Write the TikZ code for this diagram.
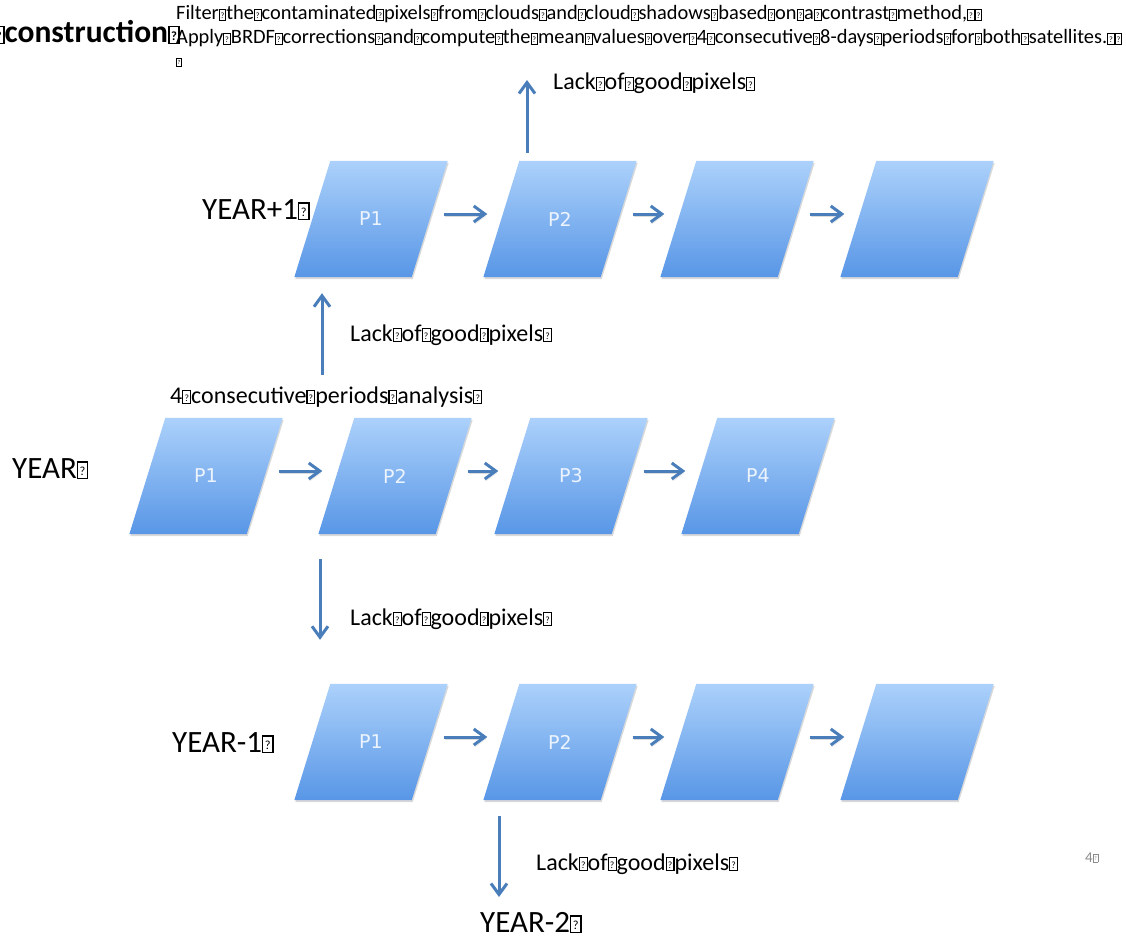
\documentclass[tikz,border=0pt]{standalone}
\usepackage{fontspec}
\setmainfont{Carlito}
\newfontfamily\periodfont{DejaVu Sans}
\usepackage{graphicx}
\usetikzlibrary{arrows.meta, shadows, backgrounds}

\definecolor{linkblue}{RGB}{74,126,187}
\definecolor{paneltop}{RGB}{172,209,251}
\definecolor{panelbot}{RGB}{88,150,230}
\definecolor{pagegray}{RGB}{140,140,140}

% box that the slides print in place of a space
\newcommand{\qb}{{\fboxsep=0pt\fboxrule=0.045em\fbox{\makebox[0.28em]{\rule{0pt}{0.5em}\raisebox{0.07em}{\scalebox{0.4}{?}}}}}}

\begin{document}
\begin{tikzpicture}[x=1pt, y=-1pt,
    period/.style={minimum width=117pt, minimum height=116pt, inner sep=0pt,
      font=\periodfont\fontsize{19}{19}\selectfont, text=white, text opacity=0.85},
    panel/.style={top color=paneltop, bottom color=panelbot,
      drop shadow={shadow xshift=1pt, shadow yshift=-2pt, opacity=0.3}},
    flow/.style={linkblue, line width=3pt, -{Straight Barb[length=11pt, width=16pt]}},
    link/.style={flow, shorten <=14pt, shorten >=14pt,
      preaction={draw=black!35, opacity=0.4, transform canvas={xshift=1pt, yshift=-2pt}}},
    lack/.style={anchor=base west, inner sep=0pt, font=\fontsize{24}{24}\selectfont},
    year/.style={anchor=base west, inner sep=0pt, font=\fontsize{31}{31}\selectfont}]
    \useasboundingbox (0,0) rectangle (1126,939);

    % Heading and notes
    \node[anchor=base east, inner sep=0pt, font=\bfseries\fontsize{31.5}{31.5}\selectfont] (title) at (180,43) {\qb construction\qb};
    \node[anchor=base west, inner sep=0pt, font=\fontsize{20.4}{20.4}\selectfont] (note1) at (176,20) {Filter\qb the\qb contaminated\qb pixels\qb from\qb clouds\qb and\qb cloud\qb shadows\qb based\qb on\qb a\qb contrast\qb method,\qb\qb};
    \node[anchor=base west, inner sep=0pt, font=\fontsize{20.4}{20.4}\selectfont] (note2) at (176,44) {Apply\qb BRDF\qb corrections\qb and\qb compute\qb the\qb mean\qb values\qb over\qb 4\qb consecutive\qb 8-days\qb periods\qb for\qb both\qb satellites.\qb\qb};
    \node[anchor=base west, inner sep=0pt, font=\fontsize{15}{15}\selectfont] (note3) at (176,66) {\qb};

    % YEAR+1 row
    \node[year] (yrUp) at (202,219) {YEAR+1\qb};
    \node[period] (up1) at (371,219) {P1};
    \node[period] (up2) at (560,219) {P2};
    \node[period] (up3) at (737,219) {};
    \node[period] (up4) at (917,219) {};

    % YEAR row
    \node[lack] (cons) at (170,403) {4\qb consecutive\qb periods\qb analysis\qb};
    \node[year] (yrCur) at (12,478) {YEAR\qb};
    \node[period] (cur1) at (206,476) {P1};
    \node[period] (cur2) at (395,476) {P2};
    \node[period] (cur3) at (571,476) {P3};
    \node[period] (cur4) at (758,476) {P4};

    % YEAR-1 row
    \node[year] (yrLow) at (172,752) {YEAR-1\qb};
    \node[period] (low1) at (371,742) {P1};
    \node[period] (low2) at (560,742) {P2};
    \node[period] (low3) at (737,742) {};
    \node[period] (low4) at (917,742) {};

    \node[year] (yrLow2) at (480,932) {YEAR-2\qb};

    % Parallelograms behind the period nodes
    \begin{scope}[on background layer]
        \foreach \n in {up1,up2,up3,up4,cur1,cur2,cur3,cur4,low1,low2,low3,low4}
            \path[panel] ([xshift=-18pt]\n.south west) -- ([xshift=-18pt]\n.south east)
                -- ([xshift=18pt]\n.north east) -- ([xshift=18pt]\n.north west) -- cycle;
    \end{scope}

    % Period to period
    \foreach \a/\b in {up1/up2, up2/up3, up3/up4, cur1/cur2, cur2/cur3, cur3/cur4, low1/low2, low2/low3, low3/low4}
        \draw[link] ([yshift=5pt]\a.east) -- ([yshift=5pt]\b.west);

    % Lack of good pixels
    \coordinate (tipA) at (527,80);
    \draw[flow] ([xshift=-33pt, yshift=8pt]up2.north) -- (tipA);
    \node[lack] (lackA) at (553,90) {Lack\qb of\qb good\qb pixels\qb};

    \coordinate (baseB) at (322,375);
    \draw[flow] (baseB) -- ([xshift=-49pt, yshift=-16pt]up1.south);
    \node[lack] (lackB) at (350,341) {Lack\qb of\qb good\qb pixels\qb};

    \draw[flow] ([xshift=-75pt, yshift=-25pt]cur2.south) -- ([xshift=-51pt, yshift=44pt]low1.north);
    \node[lack] (lackC) at (350,625) {Lack\qb of\qb good\qb pixels\qb};

    \coordinate (tipD) at (499,897);
    \draw[flow] ([xshift=-61pt, yshift=-16pt]low2.south) -- (tipD);
    \node[lack] (lackD) at (536,870) {Lack\qb of\qb good\qb pixels\qb};

    % Slide number
    \node[anchor=base west, inner sep=0pt, text=pagegray, font=\fontsize{15}{15}\selectfont] (pg) at (1085,862) {4\qb};
\end{tikzpicture}
\end{document}
